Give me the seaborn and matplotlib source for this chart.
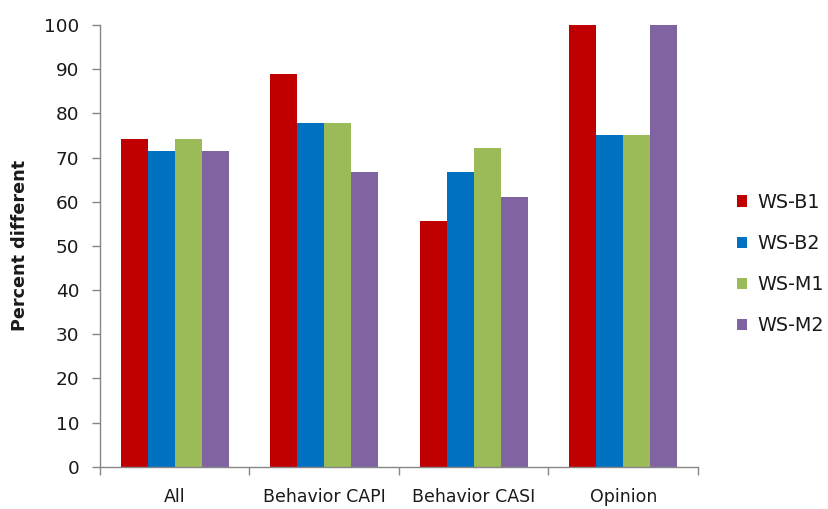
import matplotlib
matplotlib.use("Agg")
import matplotlib.pyplot as plt
import seaborn as sns
import pandas as pd

categories = ["All", "Behavior CAPI", "Behavior CASI", "Opinion"]
series = ["WS-B1", "WS-B2", "WS-M1", "WS-M2"]
ws_b1 = [74.3, 88.9, 55.6, 100.0]
ws_b2 = [71.4, 77.8, 66.7, 75.0]
ws_m1 = [74.3, 77.8, 72.2, 75.0]
ws_m2 = [71.4, 66.7, 61.1, 100.0]
colors = ["#C00000", "#0070C0", "#9BBB59", "#8064A2"]
y_ticks = list(range(0, 101, 10))

rows = []
for name, vals in zip(series, [ws_b1, ws_b2, ws_m1, ws_m2]):
    for cat, v in zip(categories, vals):
        rows.append({"Category": cat, "Series": name, "Value": v})
df = pd.DataFrame(rows)

sns.set_style("white")
plt.rcParams["font.family"] = ["DejaVu Sans"]
text_color = "#1a1a1a"

fig = plt.figure(figsize=(8.29, 5.09), dpi=100)
ax = fig.add_axes([100 / 829, 1 - 466.7 / 509, (698 - 100) / 829, (466.7 - 25) / 509])

sns.barplot(data=df, x="Category", y="Value", hue="Series", order=categories,
            hue_order=series, palette=colors, width=0.725, gap=0,
            saturation=1, edgecolor="none", ax=ax, legend=True)

ax.set_ylim(0, 100)
ax.set_xlim(-0.5, 3.5)
ax.set_yticks(y_ticks)
ax.set_xlabel("")
ax.set_ylabel("Percent different", fontsize=12.7, fontweight="bold", color=text_color)
ax.yaxis.set_label_coords(-71 / 598, 0.5)

for s in ["top", "right"]:
    ax.spines[s].set_visible(False)
for s in ["left", "bottom"]:
    ax.spines[s].set_color("#868686")
    ax.spines[s].set_linewidth(1.0)

ax.tick_params(axis="y", direction="out", length=5.8, width=1, color="#868686",
               labelsize=13.3, labelcolor=text_color, pad=9, left=True)
ax.set_xticks([-0.5, 0.5, 1.5, 2.5, 3.5], minor=False)
ax.set_xticklabels([])
ax.tick_params(axis="x", which="major", direction="out", length=5.8, width=1,
               color="#868686", bottom=True)
ax.set_xticks([0, 1, 2, 3], minor=True)
ax.set_xticklabels(categories, minor=True)
ax.tick_params(axis="x", which="minor", length=0, labelsize=12.5,
               labelcolor=text_color, pad=15)

handles, labels = ax.get_legend_handles_labels()
leg = ax.legend(handles, labels, loc="center left",
                bbox_to_anchor=(729.5 / 829, 1 - 264 / 509),
                bbox_transform=fig.transFigure, frameon=False, fontsize=13.8,
                handlelength=0.53, handleheight=0.53, handletextpad=0.5,
                labelspacing=1.15, borderaxespad=0)
for t in leg.get_texts():
    t.set_color(text_color)

fig.savefig("out.png", dpi=100)
